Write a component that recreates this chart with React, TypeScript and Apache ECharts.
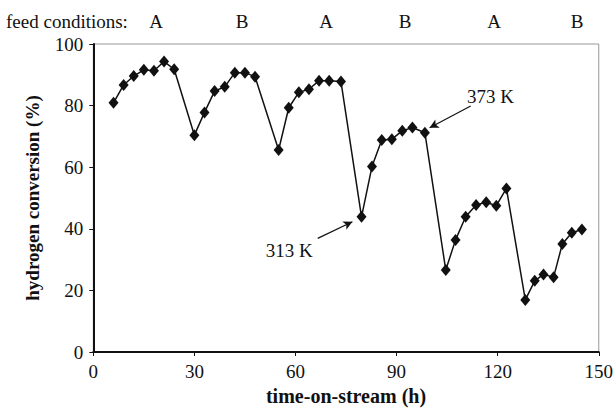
import React, { useEffect, useRef } from "react";
import * as echarts from "echarts";

const timeH = [6, 9, 12, 15, 18, 21, 24, 30, 33, 36, 39, 42, 45, 48, 55, 58, 61, 64, 67, 70, 73.5, 79.6, 82.7, 85.6, 88.6, 91.7, 94.7, 98.4, 104.6, 107.5, 110.5, 113.6, 116.6, 119.6, 122.6, 128.2, 131, 133.6, 136.6, 139.2, 142, 145];
const conversion = [80.9, 86.7, 89.6, 91.6, 91.3, 94.3, 91.8, 70.4, 77.8, 84.7, 86.1, 90.7, 90.7, 89.4, 65.6, 79.3, 84.3, 85.3, 88.1, 88.1, 87.8, 43.9, 60.2, 68.8, 69.1, 71.8, 72.9, 71.2, 26.6, 36.4, 43.9, 47.7, 48.6, 47.5, 53.1, 16.9, 23.1, 25.2, 24.3, 35.1, 38.7, 39.8];
const xTicks = [0, 30, 60, 90, 120, 150];
const yTicks = [0, 20, 40, 60, 80, 100];
const feedLabels = ["A", "B", "A", "B", "A", "B"];
const feedLabelX = [156, 242, 326, 405, 494, 577];
const annotations = [
  { text: "373 K", at: [110.9, 83.0], from: [112.0, 79.9], to: [99.8, 72.8], pos: "right" },
  { text: "313 K", at: [65.1, 33.1], from: [66.6, 36.9], to: [76.9, 42.3], pos: "left" },
];

const FONT = "Liberation Serif";
const FS = 19;

export default function App() {
  const ref = useRef<HTMLDivElement>(null);
  useEffect(() => {
    if (!ref.current) return;
    const chart = echarts.init(ref.current, null, { renderer: "svg" });
    chart.setOption({
      animation: false,
      backgroundColor: "#ffffff",
      textStyle: { fontFamily: FONT },
      grid: {
        left: 93.3,
        right: 15,
        top: 44,
        bottom: 62,
        show: true,
        borderColor: "#999999",
        borderWidth: 1,
      },
      xAxis: {
        type: "value",
        min: xTicks[0],
        max: xTicks[xTicks.length - 1],
        interval: 30,
        name: "time-on-stream (h)",
        nameLocation: "middle",
        nameGap: 34,
        nameTextStyle: { fontFamily: FONT, fontWeight: "bold", fontSize: 20, color: "#111" },
        axisLine: { show: true, lineStyle: { color: "#111", width: 2 } },
        axisTick: { show: true, inside: false, length: 4, lineStyle: { color: "#111", width: 1 } },
        axisLabel: { fontFamily: FONT, fontSize: FS, color: "#111", margin: 10 },
        splitLine: { show: false },
      },
      yAxis: {
        type: "value",
        min: yTicks[0],
        max: yTicks[yTicks.length - 1],
        interval: 20,
        name: "hydrogen conversion (%)",
        nameLocation: "middle",
        nameGap: 51,
        nameTextStyle: { fontFamily: FONT, fontWeight: "bold", fontSize: FS, color: "#111" },
        axisLine: { show: true, lineStyle: { color: "#111", width: 2 } },
        axisTick: { show: true, inside: false, length: 4, lineStyle: { color: "#111", width: 1 } },
        axisLabel: { fontFamily: FONT, fontSize: FS, color: "#111", margin: 10 },
        splitLine: { show: false },
      },
      series: [
        {
          type: "line",
          data: timeH.map((t, i) => [t, conversion[i]]),
          symbol: "diamond",
          symbolSize: [10, 12],
          itemStyle: { color: "#111" },
          lineStyle: { color: "#111", width: 1.5 },
          silent: true,
          markLine: {
            silent: true,
            symbol: ["none", "arrow"],
            symbolSize: [7, 9],
            label: { show: false },
            lineStyle: { color: "#111", width: 1.2, type: "solid" },
            data: annotations.map((a) => [{ coord: a.from }, { coord: a.to }]),
          },
          markPoint: {
            silent: true,
            symbol: "circle",
            symbolSize: 0,
            itemStyle: { color: "transparent" },
            data: annotations.map((a) => ({
              coord: a.at,
              value: a.text,
              label: {
                show: true,
                formatter: a.text,
                position: a.pos,
                distance: 0,
                fontFamily: FONT,
                fontSize: FS,
                color: "#111",
              },
            })),
          },
        },
      ],
      graphic: [
        {
          type: "text",
          x: 6,
          y: 21,
          style: { text: "feed conditions:", font: `${FS}px "${FONT}"`, fill: "#111", verticalAlign: "middle" },
        },
        ...feedLabels.map((l, i) => ({
          type: "text",
          x: feedLabelX[i],
          y: 21,
          style: {
            text: l,
            font: `${FS}px "${FONT}"`,
            fill: "#111",
            align: "center",
            verticalAlign: "middle",
          },
        })),
      ],
    });
    return () => chart.dispose();
  }, []);
  return <div ref={ref} style={{ width: 616, height: 414, position: "absolute", left: 0, top: 0 }} />;
}
